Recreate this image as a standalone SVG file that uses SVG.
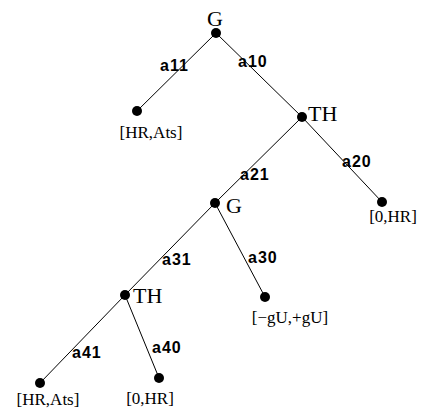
<svg xmlns="http://www.w3.org/2000/svg" width="421" height="409" viewBox="0 0 421 409">
<style>
.e{stroke:#000;stroke-width:1;fill:none}
.d{fill:#000}
.n{font-family:"Liberation Serif",serif;font-size:22px;fill:#000}
.l{font-family:"Liberation Serif",serif;font-size:17px;fill:#000}
.a{font-family:"Liberation Sans",sans-serif;font-size:16px;font-weight:bold;letter-spacing:1px;fill:#000}
</style>
<rect width="421" height="409" fill="#fff"/>
<g id="connectors">
<line class="e" x1="216" y1="33" x2="137" y2="111"/>
<line class="e" x1="216" y1="33" x2="302" y2="117"/>
<line class="e" x1="302" y1="117" x2="215" y2="203"/>
<line class="e" x1="302" y1="117" x2="382" y2="202"/>
<line class="e" x1="215" y1="203" x2="125" y2="295"/>
<line class="e" x1="215" y1="203" x2="265" y2="297"/>
<line class="e" x1="125" y1="295" x2="40" y2="383"/>
<line class="e" x1="125" y1="295" x2="159" y2="378"/>
<text class="a" x="160" y="71">a11</text>
<text class="a" x="238" y="67">a10</text>
<text class="a" x="240" y="180">a21</text>
<text class="a" x="342" y="167">a20</text>
<text class="a" x="162" y="265">a31</text>
<text class="a" x="248" y="263">a30</text>
<text class="a" x="72" y="358">a41</text>
<text class="a" x="152" y="353">a40</text>
</g>
<g id="n0"><circle class="d" cx="216" cy="33" r="5"/><text class="n" x="215" y="26" text-anchor="middle">G</text></g>
<g id="n1"><circle class="d" cx="137" cy="111" r="5"/><text class="l" x="151" y="138" text-anchor="middle">[HR,Ats]</text></g>
<g id="n2"><circle class="d" cx="302" cy="117" r="5"/><text class="n" x="308" y="121">TH</text></g>
<g id="n3"><circle class="d" cx="382" cy="202" r="5"/><text class="l" x="393" y="222" text-anchor="middle">[0,HR]</text></g>
<g id="n4"><circle class="d" cx="215" cy="203" r="5"/><text class="n" x="226" y="213">G</text></g>
<g id="n5"><circle class="d" cx="265" cy="297" r="5"/><text class="l" x="290" y="323" text-anchor="middle">[−gU,+gU]</text></g>
<g id="n6"><circle class="d" cx="125" cy="295" r="5"/><text class="n" x="133" y="303">TH</text></g>
<g id="n7"><circle class="d" cx="40" cy="383" r="5"/><text class="l" x="48" y="405" text-anchor="middle">[HR,Ats]</text></g>
<g id="n8"><circle class="d" cx="159" cy="378" r="5"/><text class="l" x="150" y="404" text-anchor="middle">[0,HR]</text></g>
</svg>
